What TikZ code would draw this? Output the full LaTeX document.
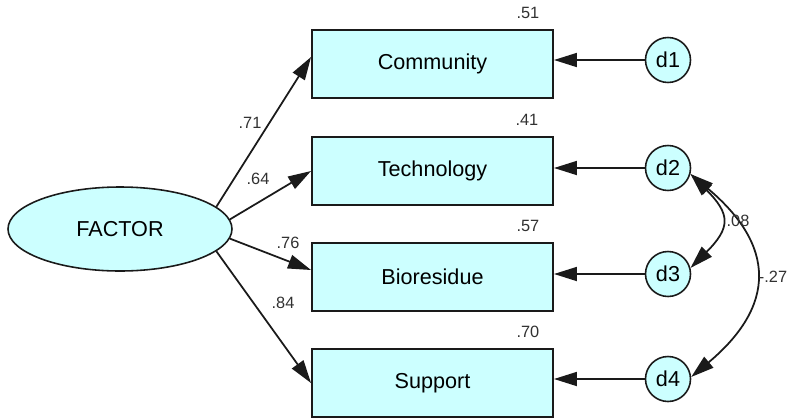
\documentclass[tikz,border=0pt]{standalone}
\usepackage{fontspec}
\setmainfont{Liberation Sans}
\usetikzlibrary{arrows.meta,shapes.geometric}
\definecolor{cellfill}{HTML}{CCFFFF}
\definecolor{ink}{HTML}{1A1A1A}

\begin{document}
\begin{tikzpicture}[
  font=\fontsize{12.3}{14}\selectfont,
  latent/.style={ellipse,draw=ink,line width=0.9pt,fill=cellfill,minimum width=4.48cm,minimum height=1.68cm,inner sep=0pt},
  obs/.style={rectangle,draw=ink,line width=1.1pt,fill=cellfill,minimum width=4.82cm,minimum height=1.36cm,inner sep=0pt},
  err/.style={circle,draw=ink,line width=0.9pt,fill=cellfill,minimum size=0.90cm,inner sep=0pt},
  lnk/.style={draw=ink,line width=1pt,-{Triangle[length=0.46cm,width=0.28cm]}},
  cov/.style={draw=ink,line width=1pt,{Triangle[length=0.46cm,width=0.28cm]}-{Triangle[length=0.46cm,width=0.28cm]}},
  est/.style={font=\fontsize{9.3}{11}\selectfont\color{ink!90}},
]
\useasboundingbox (0,0) rectangle (15.76,-8.34);

% factor and indicators
\node[latent] (fac) at (2.40,-4.58) {FACTOR};
\node[obs] (c1) at (8.65,-1.28) {Community};
\node[obs] (c2) at (8.65,-3.42) {Technology};
\node[obs] (c3) at (8.65,-5.54) {Bioresidue};
\node[obs] (c4) at (8.65,-7.66) {Support};

% error terms
\node[err] (d1) at (13.36,-1.20) {d1};
\node[err] (d2) at (13.36,-3.36) {d2};
\node[err] (d3) at (13.36,-5.48) {d3};
\node[err] (d4) at (13.36,-7.58) {d4};

% squared multiple correlations
\node[est,anchor=south] (r1) at ([xshift=-0.52cm,yshift=0.08cm]c1.north east) {.51};
\node[est,anchor=south] (r2) at ([xshift=-0.54cm,yshift=0.08cm]c2.north east) {.41};
\node[est,anchor=south] (r3) at ([xshift=-0.52cm,yshift=0.08cm]c3.north east) {.57};
\node[est,anchor=south] (r4) at ([xshift=-0.52cm,yshift=0.08cm]c4.north east) {.70};

% loadings
\draw[lnk] (fac.13) -- ([yshift=0.14cm]c1.west);
\draw[lnk] (fac.5) -- (c2.west);
\draw[lnk] (fac.-5) -- ([yshift=0.14cm]c3.west);
\draw[lnk] (fac.-13) -- (c4.west);
\node[est] (l1) at (5.00,-2.46) {.71};
\node[est] (l2) at (5.16,-3.58) {.64};
\node[est] (l3) at (5.76,-4.86) {.76};
\node[est] (l4) at (5.66,-6.06) {.84};

% residual paths
\draw[lnk] (d1) -- (d1 -| c1.east);
\draw[lnk] (d2) -- (d2 -| c2.east);
\draw[lnk] (d3) -- (d3 -| c3.east);
\draw[lnk] (d4) -- (d4 -| c4.east);

% error covariances
\draw[cov] (d2.-15) to[out=-45,in=45,looseness=1.55] (d3.15);
\draw[cov] (d2.-15) to[out=-40,in=40,looseness=1.4] (d4.5);
\node[est] (k1) at (14.76,-4.42) {.08};
\node[est] (k2) at (15.46,-5.54) {-.27};
\end{tikzpicture}
\end{document}
